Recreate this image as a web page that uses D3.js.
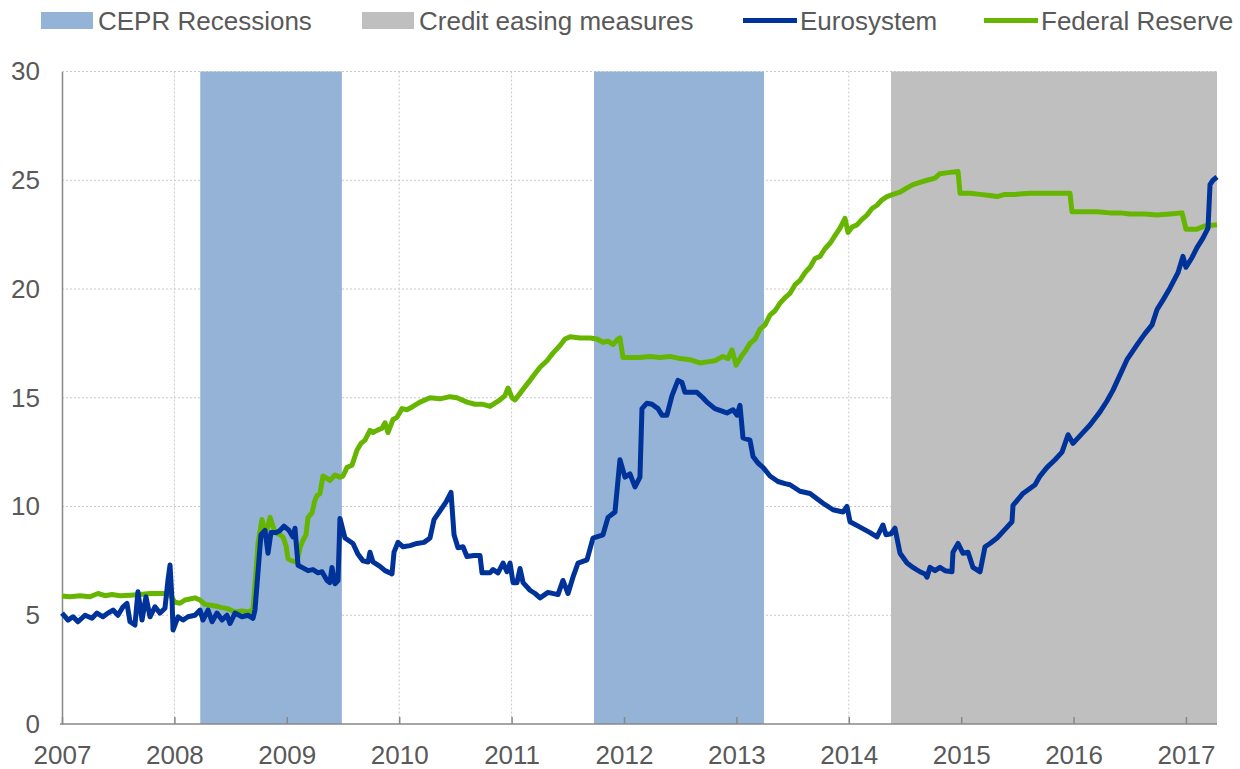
<!DOCTYPE html>
<html>
<head>
<meta charset="utf-8">
<script src="https://cdn.jsdelivr.net/npm/d3@7"></script>
<style>
  body { margin: 0; background: #fff; }
  svg { display: block; font-family: "Liberation Sans", Arial, sans-serif; }
</style>
</head>
<body>
<div id="chart"></div>
<script>
// decimal years
const euroDates = [2007.000, 2007.053, 2007.098, 2007.142, 2007.205, 2007.267, 2007.311, 2007.365, 2007.409, 2007.454,
  2007.498, 2007.543, 2007.578, 2007.605, 2007.649, 2007.676, 2007.712, 2007.747, 2007.783, 2007.827,
  2007.872, 2007.916, 2007.943, 2007.961, 2007.979, 2007.988, 2008.032, 2008.076, 2008.121, 2008.183,
  2008.228, 2008.254, 2008.299, 2008.335, 2008.379, 2008.424, 2008.468, 2008.495, 2008.539, 2008.601,
  2008.655, 2008.699, 2008.717, 2008.744, 2008.770, 2008.806, 2008.833, 2008.859, 2008.904, 2008.940,
  2008.975, 2009.020, 2009.055, 2009.073, 2009.100, 2009.135, 2009.189, 2009.233, 2009.278, 2009.313,
  2009.358, 2009.384, 2009.402, 2009.429, 2009.456, 2009.473, 2009.518, 2009.589, 2009.634, 2009.678,
  2009.723, 2009.740, 2009.767, 2009.829, 2009.874, 2009.918, 2009.936, 2009.954, 2009.989, 2010.034,
  2010.096, 2010.158, 2010.221, 2010.274, 2010.310, 2010.363, 2010.416, 2010.461, 2010.488, 2010.523,
  2010.568, 2010.603, 2010.666, 2010.719, 2010.737, 2010.808, 2010.835, 2010.879, 2010.924, 2010.959,
  2010.986, 2011.013, 2011.048, 2011.075, 2011.102, 2011.164, 2011.209, 2011.253, 2011.324, 2011.413,
  2011.457, 2011.502, 2011.546, 2011.591, 2011.671, 2011.724, 2011.813, 2011.858, 2011.920, 2011.964,
  2012.009, 2012.053, 2012.098, 2012.142, 2012.160, 2012.204, 2012.249, 2012.302, 2012.338, 2012.382,
  2012.427, 2012.480, 2012.516, 2012.542, 2012.649, 2012.702, 2012.738, 2012.809, 2012.916, 2012.970,
  2013.005, 2013.032, 2013.059, 2013.121, 2013.148, 2013.192, 2013.237, 2013.299, 2013.370, 2013.433,
  2013.477, 2013.566, 2013.655, 2013.771, 2013.860, 2013.949, 2013.984, 2014.011, 2014.100, 2014.189,
  2014.251, 2014.304, 2014.331, 2014.376, 2014.411, 2014.456, 2014.518, 2014.571, 2014.633, 2014.678,
  2014.696, 2014.722, 2014.767, 2014.811, 2014.856, 2014.918, 2014.927, 2014.972, 2015.016, 2015.061,
  2015.105, 2015.168, 2015.212, 2015.256, 2015.319, 2015.390, 2015.452, 2015.461, 2015.550, 2015.657,
  2015.701, 2015.764, 2015.835, 2015.897, 2015.951, 2015.995, 2016.075, 2016.146, 2016.235, 2016.297,
  2016.351, 2016.413, 2016.475, 2016.573, 2016.635, 2016.698, 2016.742, 2016.796, 2016.858, 2016.929,
  2016.973, 2017.000, 2017.054, 2017.098, 2017.152, 2017.196, 2017.214, 2017.240, 2017.276];
const euroValues = [5.10, 4.78, 4.93, 4.70, 5.00, 4.86, 5.10, 4.93, 5.10, 5.24,
  5.00, 5.39, 5.55, 4.70, 4.55, 6.08, 4.78, 5.85, 4.93, 5.39,
  5.10, 5.32, 6.62, 7.31, 5.70, 4.32, 4.93, 4.78, 4.93, 5.00,
  5.24, 4.78, 5.24, 4.70, 5.10, 4.78, 5.00, 4.62, 5.10, 4.93,
  5.00, 4.86, 5.24, 7.00, 8.70, 8.90, 7.85, 8.80, 8.80, 8.90,
  9.10, 8.90, 8.60, 9.00, 7.30, 7.20, 7.05, 7.10, 6.95, 7.00,
  6.60, 6.50, 7.20, 6.45, 6.60, 9.45, 8.55, 8.30, 7.80, 7.50,
  7.45, 7.90, 7.45, 7.25, 7.05, 6.95, 6.90, 7.90, 8.35, 8.15,
  8.20, 8.30, 8.35, 8.55, 9.40, 9.80, 10.20, 10.65, 8.70, 8.10,
  8.15, 7.70, 7.75, 7.75, 6.95, 6.95, 7.10, 6.95, 7.40, 7.00,
  7.40, 6.50, 6.50, 7.15, 6.50, 6.15, 6.00, 5.80, 6.05, 5.95,
  6.60, 6.00, 6.75, 7.40, 7.55, 8.55, 8.70, 9.50, 9.75, 12.15,
  11.35, 11.50, 10.90, 11.35, 14.50, 14.75, 14.70, 14.50, 14.20, 14.20,
  15.10, 15.80, 15.70, 15.25, 15.25, 15.00, 14.80, 14.50, 14.30, 14.45,
  14.20, 14.65, 13.15, 13.05, 12.30, 12.00, 11.80, 11.40, 11.15, 11.05,
  11.00, 10.70, 10.60, 10.15, 9.85, 9.75, 10.00, 9.30, 9.05, 8.80,
  8.60, 9.15, 8.70, 8.75, 9.00, 7.85, 7.40, 7.20, 7.00, 6.90,
  6.75, 7.20, 7.05, 7.20, 7.05, 7.00, 7.90, 8.30, 7.85, 7.90,
  7.20, 7.00, 8.15, 8.30, 8.55, 8.95, 9.30, 10.05, 10.60, 11.00,
  11.40, 11.80, 12.15, 12.50, 13.30, 12.90, 13.35, 13.75, 14.35, 14.85,
  15.35, 16.05, 16.75, 17.50, 17.95, 18.35, 19.05, 19.50, 20.05, 20.75,
  21.50, 21.00, 21.45, 21.90, 22.35, 22.80, 24.80, 25.00, 25.15];

const fedDates = [2007.000, 2007.071, 2007.160, 2007.249, 2007.320, 2007.383, 2007.445, 2007.516, 2007.605, 2007.694,
  2007.783, 2007.872, 2007.943, 2007.979, 2008.005, 2008.050, 2008.094, 2008.139, 2008.183, 2008.228,
  2008.272, 2008.335, 2008.388, 2008.424, 2008.477, 2008.539, 2008.601, 2008.655, 2008.699, 2008.726,
  2008.744, 2008.779, 2008.806, 2008.824, 2008.851, 2008.895, 2008.940, 2008.966, 2008.993, 2009.011,
  2009.046, 2009.091, 2009.118, 2009.144, 2009.171, 2009.189, 2009.224, 2009.251, 2009.269, 2009.295,
  2009.322, 2009.340, 2009.384, 2009.429, 2009.473, 2009.500, 2009.536, 2009.580, 2009.625, 2009.660,
  2009.696, 2009.740, 2009.767, 2009.803, 2009.847, 2009.874, 2009.900, 2009.945, 2009.980, 2010.025,
  2010.069, 2010.123, 2010.185, 2010.274, 2010.363, 2010.452, 2010.514, 2010.603, 2010.674, 2010.746,
  2010.808, 2010.852, 2010.897, 2010.941, 2010.968, 2011.004, 2011.030, 2011.075, 2011.119, 2011.164,
  2011.208, 2011.253, 2011.315, 2011.368, 2011.431, 2011.475, 2011.520, 2011.609, 2011.698, 2011.760,
  2011.813, 2011.858, 2011.902, 2011.947, 2011.964, 2011.991, 2012.053, 2012.142, 2012.231, 2012.320,
  2012.409, 2012.498, 2012.587, 2012.676, 2012.738, 2012.809, 2012.880, 2012.925, 2012.961, 2012.997,
  2013.050, 2013.086, 2013.121, 2013.166, 2013.210, 2013.255, 2013.299, 2013.344, 2013.388, 2013.433,
  2013.477, 2013.522, 2013.566, 2013.611, 2013.655, 2013.700, 2013.744, 2013.788, 2013.833, 2013.877,
  2013.922, 2013.966, 2013.993, 2014.029, 2014.073, 2014.118, 2014.162, 2014.207, 2014.251, 2014.296,
  2014.340, 2014.393, 2014.456, 2014.518, 2014.571, 2014.633, 2014.696, 2014.767, 2014.811, 2014.883,
  2014.972, 2014.990, 2015.078, 2015.168, 2015.256, 2015.319, 2015.390, 2015.479, 2015.612, 2015.746,
  2015.879, 2015.968, 2015.986, 2016.102, 2016.208, 2016.324, 2016.413, 2016.502, 2016.635, 2016.742,
  2016.858, 2016.965, 2017.000, 2017.098, 2017.170, 2017.276];
const fedValues = [5.88, 5.85, 5.90, 5.85, 6.00, 5.90, 5.95, 5.90, 5.92, 5.95,
  6.00, 6.00, 6.00, 5.80, 5.60, 5.55, 5.70, 5.75, 5.80, 5.70,
  5.50, 5.45, 5.40, 5.35, 5.30, 5.15, 5.20, 5.15, 5.25, 7.00,
  8.30, 9.40, 8.90, 8.95, 9.50, 8.80, 8.70, 8.60, 8.20, 7.60,
  7.50, 7.45, 8.10, 8.45, 8.70, 9.50, 9.70, 10.30, 10.50, 10.60,
  11.40, 11.35, 11.20, 11.45, 11.35, 11.40, 11.80, 11.90, 12.60, 12.90,
  13.05, 13.50, 13.40, 13.50, 13.60, 13.85, 13.40, 14.00, 14.10, 14.50,
  14.45, 14.60, 14.80, 15.00, 14.95, 15.05, 15.00, 14.80, 14.70, 14.70,
  14.60, 14.75, 14.90, 15.10, 15.45, 15.00, 14.90, 15.20, 15.50, 15.80,
  16.10, 16.40, 16.70, 17.05, 17.40, 17.70, 17.80, 17.75, 17.75, 17.70,
  17.55, 17.60, 17.45, 17.70, 17.75, 16.85, 16.85, 16.85, 16.90, 16.85,
  16.90, 16.80, 16.75, 16.60, 16.65, 16.70, 16.90, 16.80, 17.20, 16.50,
  16.95, 17.20, 17.50, 17.70, 18.15, 18.35, 18.80, 19.00, 19.35, 19.60,
  19.80, 20.20, 20.40, 20.75, 21.00, 21.40, 21.50, 21.85, 22.10, 22.45,
  22.80, 23.25, 22.60, 22.85, 22.95, 23.20, 23.40, 23.70, 23.85, 24.10,
  24.25, 24.35, 24.45, 24.65, 24.80, 24.90, 25.00, 25.10, 25.30, 25.35,
  25.40, 24.40, 24.40, 24.35, 24.30, 24.25, 24.35, 24.35, 24.40, 24.40,
  24.40, 24.40, 23.55, 23.55, 23.55, 23.50, 23.50, 23.45, 23.45, 23.40,
  23.45, 23.50, 22.75, 22.75, 22.90, 22.95];

// shaded periods (decimal years)
const recessionStarts = [2008.23, 2011.733];
const recessionEnds = [2009.49, 2013.246];
const easingStarts = [2014.376];
const easingEnds = [2017.276];

const yearTicks = [2007, 2008, 2009, 2010, 2011, 2012, 2013, 2014, 2015, 2016, 2017];
const valueTicks = [0, 5, 10, 15, 20, 25, 30];

const legendItems = ['CEPR Recessions', 'Credit easing measures', 'Eurosystem', 'Federal Reserve'];

// setup
const width = 1240, height = 769;
const textColor = '#595959';
const fontSize = '26px';
const blue = '#003399', green = '#66B500';
const recessionColor = '#95B3D7', easingColor = '#BFBFBF';

const x = d3.scaleLinear().domain([2007, 2017.276]).range([62, 1217]);
const y = d3.scaleLinear().domain([0, 30]).range([724, 71.5]);

const svg = d3.select('#chart').append('svg')
  .attr('width', width)
  .attr('height', height);

// gridlines
const grid = svg.append('g');
grid.selectAll('.hgrid').data(valueTicks.filter(v => v > 0)).enter()
  .append('line')
    .attr('x1', x(2007)).attr('x2', x.range()[1])
    .attr('y1', d => y(d)).attr('y2', d => y(d))
    .style('stroke', '#c8c8c8')
    .style('stroke-dasharray', '2,2')
    .style('stroke-width', 1);
grid.selectAll('.vgrid').data(yearTicks.filter(v => v > 2007)).enter()
  .append('line')
    .attr('x1', d => x(d)).attr('x2', d => x(d))
    .attr('y1', y(30)).attr('y2', y(0))
    .style('stroke', '#c8c8c8')
    .style('stroke-dasharray', '2,2')
    .style('stroke-width', 1);

// shaded periods
const shades = svg.append('g');
shades.selectAll('.rec').data(recessionStarts).enter()
  .append('rect')
    .attr('fill', recessionColor)
    .attr('x', d => x(d))
    .attr('width', (d, i) => x(recessionEnds[i]) - x(d))
    .attr('y', y(30))
    .attr('height', y(0) - y(30));
shades.selectAll('.ease').data(easingStarts).enter()
  .append('rect')
    .attr('fill', easingColor)
    .attr('x', d => x(d))
    .attr('width', (d, i) => x(easingEnds[i]) - x(d))
    .attr('y', y(30))
    .attr('height', y(0) - y(30));

// x axis
const xAxis = g => g
  .attr('transform', `translate(0,${y(0)})`)
  .call(d3.axisBottom(x).tickValues(yearTicks).tickFormat(d3.format('d')).tickSize(-7).tickPadding(22))
  .call(g => g.select('.domain').attr('stroke', '#888').attr('stroke-width', 1.5).attr('d', `M${x(2007) - 2},0H${x.range()[1]}`))
  .call(g => g.selectAll('.tick line').attr('stroke', '#888').attr('stroke-width', 1.5))
  .call(g => g.selectAll('.tick text').attr('fill', textColor).style('font-size', fontSize));
svg.append('g').call(xAxis);

// y axis
const yAxis = g => g
  .attr('transform', `translate(${x(2007)},0)`)
  .call(d3.axisLeft(y).tickValues(valueTicks).tickSize(0).tickPadding(22))
  .call(g => g.select('.domain').attr('stroke', '#888').attr('stroke-width', 1.5))
  .call(g => g.selectAll('.tick text').attr('fill', textColor).style('font-size', fontSize));
svg.append('g').call(yAxis);

// lines
const lineFrom = (dates, values) => d3.line()
  .x((d, i) => x(dates[i]))
  .y(d => y(d))(values);

svg.append('path')
  .attr('d', lineFrom(fedDates, fedValues))
  .attr('fill', 'none')
  .attr('stroke', green)
  .attr('stroke-width', 5)
  .attr('stroke-linejoin', 'round');
svg.append('path')
  .attr('d', lineFrom(euroDates, euroValues))
  .attr('fill', 'none')
  .attr('stroke', blue)
  .attr('stroke-width', 5)
  .attr('stroke-linejoin', 'round');

// legend
const legend = svg.append('g').style('font-size', fontSize).attr('fill', textColor);
const legendX = [41, 362, 743, 984];
const legendKinds = ['rect', 'rect', 'line', 'line'];
const legendColors = [recessionColor, easingColor, blue, green];
legendItems.forEach((name, i) => {
  if (legendKinds[i] === 'rect') {
    legend.append('rect')
      .attr('x', legendX[i]).attr('y', 12)
      .attr('width', 52).attr('height', 17)
      .attr('fill', legendColors[i]);
  } else {
    legend.append('line')
      .attr('x1', legendX[i]).attr('x2', legendX[i] + 54)
      .attr('y1', 20.5).attr('y2', 20.5)
      .attr('stroke', legendColors[i])
      .attr('stroke-width', 5);
  }
  legend.append('text')
    .attr('x', legendX[i] + 57)
    .attr('y', 29.5)
    .text(name);
});
</script>
</body>
</html>
